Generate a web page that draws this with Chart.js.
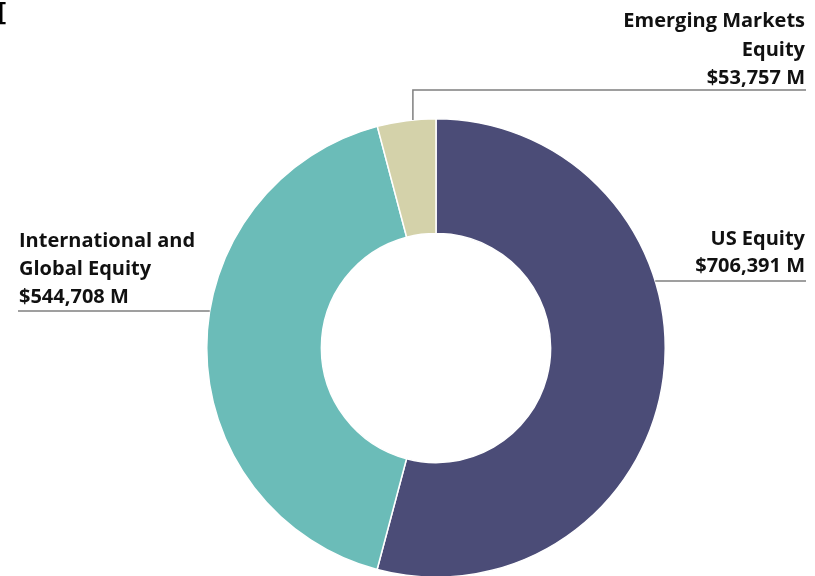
<!DOCTYPE html>
<html>
<head>
<meta charset="utf-8">
<script src="https://cdn.jsdelivr.net/npm/chart.js@4"></script>
<style>
  html, body { margin: 0; padding: 0; background: #ffffff; }
  #wrap { position: relative; width: 815px; height: 576px; overflow: hidden; }
  #c { position: absolute; left: 0; top: 0; }
  #corner { position: absolute; left: -2px; top: -5px; font: 600 25px "Open Sans", sans-serif; color: #000; line-height: 30px; }
</style>
</head>
<body>
<div id="wrap">
  <canvas id="c" width="815" height="578"></canvas>
  <div id="corner">[</div>
</div>
<script>
const categories = ["US Equity", "International and Global Equity", "Emerging Markets Equity"];
const values = [706391, 544708, 53757];
const labelLines = [
  ["US Equity", "$706,391 M"],
  ["International and", "Global Equity", "$544,708 M"],
  ["Emerging Markets", "Equity", "$53,757 M"]
];
const colors = ["#4b4c77", "#6bbcb8", "#d4d2aa"];

const calloutPlugin = {
  id: 'callouts',
  afterDraw(chart) {
    const ctx = chart.ctx;
    const arcs = chart.getDatasetMeta(0).data;
    const a0 = arcs[0], a2 = arcs[2];
    const cx = a0.x, cy = a0.y, R = a0.outerRadius;
    ctx.save();
    ctx.strokeStyle = '#7f7f7f';
    ctx.lineWidth = 1.5;
    ctx.fillStyle = '#111111';
    ctx.font = 'bold 20px "Open Sans", sans-serif';
    ctx.textBaseline = 'alphabetic';

    // US Equity (right)
    const usY = 281;
    const usX0 = cx + Math.sqrt(R * R - (usY - cy) * (usY - cy));
    ctx.beginPath(); ctx.moveTo(usX0, usY); ctx.lineTo(806, usY); ctx.stroke();
    ctx.textAlign = 'right';
    ctx.fillText(labelLines[0][0], 805, 245);
    ctx.fillText(labelLines[0][1], 805, 272);

    // International (left)
    const inY = 311;
    const inX1 = cx - Math.sqrt(R * R - (inY - cy) * (inY - cy));
    ctx.beginPath(); ctx.moveTo(18, inY); ctx.lineTo(inX1, inY); ctx.stroke();
    ctx.textAlign = 'left';
    ctx.fillText(labelLines[1][0], 19, 247);
    ctx.fillText(labelLines[1][1], 19, 275);
    ctx.fillText(labelLines[1][2], 19, 303);

    // Emerging (top)
    const ang = a2.endAngle - 0.39 * (a2.endAngle - a2.startAngle);
    const ex = cx + R * Math.cos(ang);
    const ey = cy + R * Math.sin(ang);
    const emY = 90;
    ctx.beginPath(); ctx.moveTo(ex, ey); ctx.lineTo(ex, emY); ctx.lineTo(806, emY); ctx.stroke();
    ctx.textAlign = 'right';
    ctx.fillText(labelLines[2][0], 805, 27);
    ctx.fillText(labelLines[2][1], 805, 56);
    ctx.fillText(labelLines[2][2], 805, 84);
    ctx.restore();
  }
};

new Chart(document.getElementById('c'), {
  type: 'doughnut',
  data: {
    labels: categories,
    datasets: [{
      data: values,
      backgroundColor: colors,
      borderColor: '#ffffff',
      borderWidth: 1.5,
      hoverOffset: 0
    }]
  },
  options: {
    responsive: false,
    animation: false,
    cutout: '50%',
    rotation: 0,
    layout: { padding: { top: 118, bottom: 0, left: 206, right: 149 } },
    plugins: { legend: { display: false }, tooltip: { enabled: false } }
  },
  plugins: [calloutPlugin]
});
</script>
</body>
</html>
